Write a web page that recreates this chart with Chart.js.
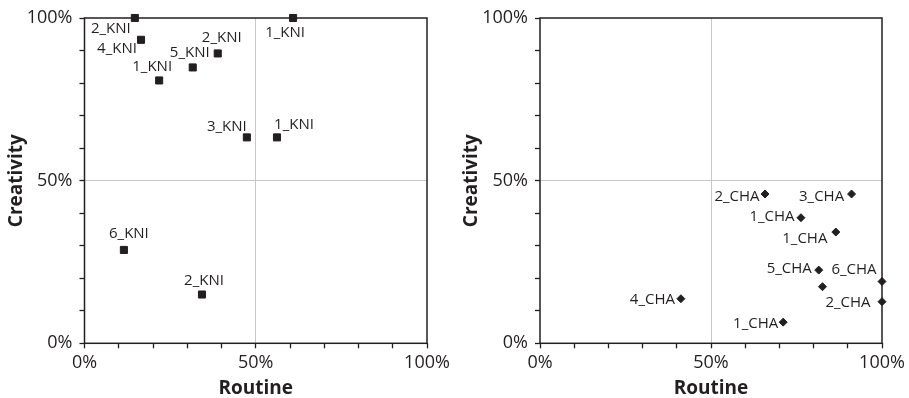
<!DOCTYPE html>
<html>
<head>
<meta charset="utf-8">
<script src="https://cdn.jsdelivr.net/npm/chart.js@4.4.1/dist/chart.umd.min.js"></script>
<style>
  html, body { margin: 0; padding: 0; background: #fff; }
  #wrap { position: relative; width: 909px; height: 398px; }
  canvas { position: absolute; top: 0; }
</style>
</head>
<body>
<div id="wrap">
  <canvas id="c1" width="454" height="398" style="left:0px"></canvas>
  <canvas id="c2" width="454" height="398" style="left:455px"></canvas>
</div>
<script>
// ---- data (percent) ----
const axisTicks = [0, 50, 100];
const routineKNI    = [14.7, 16.5, 21.8, 31.6, 38.9, 47.4, 56.2, 60.9, 11.5, 34.3];
const creativityKNI = [100, 93.3, 80.8, 84.8, 89.1, 63.3, 63.3, 100, 28.7, 15.0];
const labelsKNI     = ['2_KNI', '4_KNI', '1_KNI', '5_KNI', '2_KNI', '3_KNI', '1_KNI', '1_KNI', '6_KNI', '2_KNI'];

const routineCHA    = [65.8, 91.1, 76.3, 86.5, 81.5, 82.6, 100, 100, 41.2, 71.1];
const creativityCHA = [45.9, 45.9, 38.6, 34.2, 22.5, 17.4, 19.0, 12.8, 13.7, 6.5];
const labelsCHA     = ['2_CHA', '3_CHA', '1_CHA', '1_CHA', '5_CHA', '', '6_CHA', '2_CHA', '4_CHA', '1_CHA'];

// label placement (text centre offset from marker, px)
const placeKNI = [[-24, 11], [-24, 9], [-7, -14], [-3, -15], [4, -16], [-20, -11], [17, -13], [-8, 15], [5, -16], [2, -14]];
const placeCHA = [[-28, 3], [-30, 3], [-29, -1], [-31, 7], [-29.5, -1], [0, 0], [-28, -12], [-34, 1], [-28.5, 1], [-27.5, 2]];

const INK = '#231f20';
const FONT = "'Open Sans', 'DejaVu Sans', sans-serif";

const boxPlugin = {
  id: 'box',
  afterDatasetsDraw(chart) {
    const ctx = chart.ctx;
    const ds = chart.data.datasets[0];
    const meta = chart.getDatasetMeta(0);
    ctx.save();
    ctx.fillStyle = INK;
    ctx.font = "15px " + FONT;
    ctx.textAlign = 'center';
    ctx.textBaseline = 'middle';
    meta.data.forEach((el, i) => {
      const t = ds.ptLabels[i];
      if (!t) return;
      const off = ds.ptPlace[i];
      ctx.fillText(t, el.x + off[0], el.y + off[1]);
    });
    ctx.restore();
  },
  afterDraw(chart) {
    const ctx = chart.ctx, a = chart.chartArea;
    ctx.save();
    ctx.strokeStyle = INK;
    ctx.lineWidth = 1.5;
    ctx.strokeRect(a.left, a.top, a.right - a.left, a.bottom - a.top);
    ctx.restore();
  }
};

function makeChart(id, xs, ys, labels, place, style, radius, yW, rightPad) {
  const pts = xs.map((x, i) => ({ x: x, y: ys[i] }));
  const gridColor = (c) => (c.tick && c.tick.value === 50) ? '#c8c8c8' : 'rgba(0,0,0,0)';
  const tickCb = (v) => axisTicks.includes(v) ? v + '%' : '';
  return new Chart(document.getElementById(id), {
    type: 'scatter',
    data: {
      datasets: [{
        data: pts,
        ptLabels: labels,
        ptPlace: place,
        pointStyle: style,
        radius: radius,
        hoverRadius: radius,
        backgroundColor: INK,
        borderColor: INK,
        borderWidth: 1,
        clip: false
      }]
    },
    options: {
      responsive: false,
      devicePixelRatio: 1,
      animation: false,
      events: [],
      layout: { padding: { top: 18, right: rightPad, left: 0, bottom: 0 } },
      plugins: { legend: { display: false }, tooltip: { enabled: false } },
      scales: {
        x: {
          type: 'linear', min: 0, max: 100,
          afterFit(s) { s.height = 398 - 343.3; },
          border: { display: false },
          grid: { color: gridColor, tickColor: INK, tickLength: 5, tickWidth: 1.3, lineWidth: 1 },
          ticks: { stepSize: 10, autoSkip: false, maxRotation: 0, callback: tickCb, color: INK,
                   font: { family: FONT, size: 18 }, padding: 4 },
          title: { display: true, text: 'Routine', color: INK,
                   font: { family: FONT, size: 19, weight: 'bold', lineHeight: 1 }, padding: { top: 0, bottom: 0 } }
        },
        y: {
          type: 'linear', min: 0, max: 100,
          afterFit(s) { s.width = yW; },
          border: { display: false },
          grid: { color: gridColor, tickColor: INK, tickLength: 5, tickWidth: 1.3, lineWidth: 1 },
          ticks: { stepSize: 10, autoSkip: false, callback: tickCb, color: INK,
                   font: { family: FONT, size: 18 }, padding: 7 },
          title: { display: true, text: 'Creativity', color: INK,
                   font: { family: FONT, size: 19, weight: 'bold', lineHeight: 1 }, padding: { top: 7, bottom: 0 } }
        }
      }
    },
    plugins: [boxPlugin]
  });
}

makeChart('c1', routineKNI, creativityKNI, labelsKNI, placeKNI, 'rect', 5, 84.5, 27);
makeChart('c2', routineCHA, creativityCHA, labelsCHA, placeCHA, 'rectRot', 4, 85, 27);
</script>
</body>
</html>
